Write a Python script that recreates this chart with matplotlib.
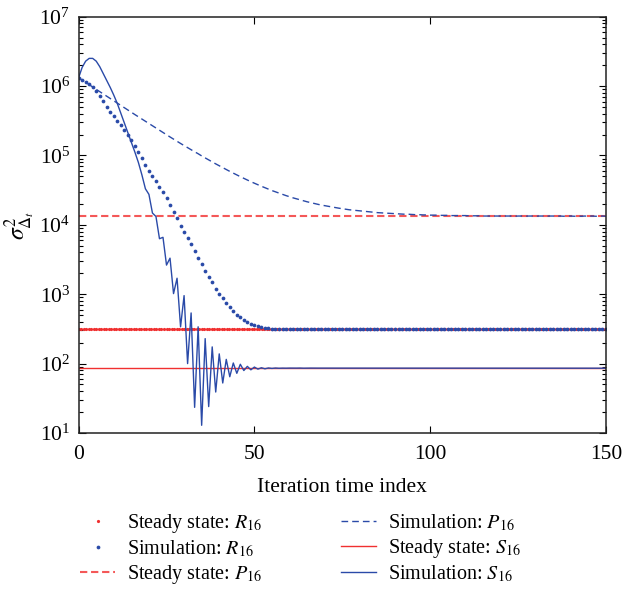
import numpy as np
import matplotlib
matplotlib.use("Agg")
import matplotlib.pyplot as plt
from matplotlib.ticker import LogLocator, NullFormatter, FixedLocator

plt.rcParams['font.family'] = ['Liberation Serif', 'DejaVu Serif']
plt.rcParams['mathtext.fontset'] = 'stix'
plt.rcParams['font.size'] = 14.5

# iteration index of the simulated curves
iters = np.arange(151)

# steady-state levels
ss_R16 = 313.0
ss_P16 = 1.33e4
ss_S16 = 86.0
# the red dotted steady-state line is drawn as closely spaced points
ss_x = np.linspace(0, 150, 211)

sim_P16 = [
    1.32e6, 1.22e6, 1.13e6, 1.05e6, 9.70e5, 8.98e5, 8.32e5, 7.71e5, 7.14e5, 6.61e5,
    6.13e5, 5.68e5, 5.26e5, 4.88e5, 4.52e5, 4.19e5, 3.89e5, 3.61e5, 3.34e5, 3.10e5,
    2.88e5, 2.67e5, 2.48e5, 2.31e5, 2.14e5, 1.99e5, 1.85e5, 1.72e5, 1.60e5, 1.49e5,
    1.39e5, 1.30e5, 1.21e5, 1.13e5, 1.06e5, 9.86e4, 9.22e4, 8.63e4, 8.08e4, 7.57e4,
    7.11e4, 6.67e4, 6.27e4, 5.90e4, 5.56e4, 5.24e4, 4.95e4, 4.68e4, 4.43e4, 4.19e4,
    3.98e4, 3.78e4, 3.60e4, 3.43e4, 3.27e4, 3.12e4, 2.99e4, 2.86e4, 2.75e4, 2.64e4,
    2.54e4, 2.45e4, 2.37e4, 2.29e4, 2.22e4, 2.15e4, 2.09e4, 2.03e4, 1.98e4, 1.93e4,
    1.89e4, 1.85e4, 1.81e4, 1.77e4, 1.74e4, 1.71e4, 1.68e4, 1.65e4, 1.63e4, 1.61e4,
    1.59e4, 1.57e4, 1.55e4, 1.53e4, 1.52e4, 1.50e4, 1.49e4, 1.48e4, 1.47e4, 1.46e4,
    1.45e4, 1.44e4, 1.43e4, 1.42e4, 1.42e4, 1.41e4, 1.40e4, 1.40e4, 1.39e4, 1.39e4,
    1.38e4, 1.38e4, 1.38e4, 1.37e4, 1.37e4, 1.37e4, 1.36e4, 1.36e4, 1.36e4, 1.36e4,
    1.36e4, 1.35e4, 1.35e4, 1.35e4, 1.35e4, 1.34e4, 1.34e4, 1.34e4, 1.34e4, 1.34e4,
    1.34e4, 1.34e4, 1.34e4, 1.34e4, 1.33e4, 1.34e4, 1.34e4, 1.33e4, 1.34e4, 1.34e4,
    1.33e4, 1.34e4, 1.34e4, 1.33e4, 1.34e4, 1.34e4, 1.33e4, 1.34e4, 1.33e4, 1.34e4,
    1.34e4, 1.33e4, 1.34e4, 1.33e4, 1.34e4, 1.33e4, 1.34e4, 1.33e4, 1.33e4, 1.34e4,
    1.33e4,
]

sim_R16 = [
    1.32e6, 1.23e6, 1.15e6, 1.07e6, 9.77e5, 8.51e5, 7.24e5, 6.03e5, 5.01e5, 4.27e5,
    3.72e5, 3.16e5, 2.75e5, 2.34e5, 2.00e5, 1.66e5, 1.38e5, 1.12e5, 9.12e4, 7.41e4,
    6.03e4, 5.01e4, 4.27e4, 3.55e4, 2.95e4, 2.40e4, 1.91e4, 1.55e4, 1.26e4, 9.77e3,
    7.94e3, 6.46e3, 5.25e3, 4.17e3, 3.31e3, 2.69e3, 2.19e3, 1.78e3, 1.48e3, 1.20e3,
    1020, 871, 740, 645, 570, 510, 465, 428, 398, 375,
    358, 345, 336, 329, 324, 320, 318, 316, 315, 314,
    313, 313, 314, 313, 312, 311, 312, 313, 314, 313,
    312, 313, 313, 312, 313, 314, 314, 313, 312, 313,
    313, 312, 312, 313, 314, 313, 313, 312, 313, 313,
    314, 315, 314, 313, 312, 313, 313, 314, 313, 312,
    313, 313, 312, 313, 314, 313, 312, 313, 313, 312,
    313, 314, 313, 312, 313, 313, 312, 313, 314, 313,
    313, 312, 313, 314, 314, 313, 312, 313, 313, 312,
    313, 313, 314, 313, 312, 313, 314, 313, 312, 313,
    313, 312, 313, 313, 314, 313, 312, 313, 313, 314,
    313,
]

sim_S16 = [
    1.32e6, 1.86e6, 2.29e6, 2.51e6, 2.51e6, 2.29e6, 1.91e6, 1.52e6, 1.20e6, 9.55e5,
    7.41e5, 5.62e5, 4.07e5, 2.95e5, 2.14e5, 1.55e5, 1.12e5, 7.94e4, 5.25e4, 3.31e4,
    2.75e4, 1.48e4, 1.32e4, 6.31e3, 6.61e3, 2.63e3, 3.31e3, 1.02e3, 1.70e3, 339,
    955, 100, 537, 23.4, 339, 12.9, 229, 24.0, 174, 38.9,
    138, 52.5, 115, 64.6, 102, 72.4, 97.7, 79.4, 91.2, 81.3,
    89.1, 83.2, 87.1, 84.1, 86.5, 85.2, 86.3, 85.6, 86.0, 85.8,
    86.1, 85.9, 86.0, 86.2, 85.8, 86.0, 86.1, 85.9, 86.0, 86.0,
    85.8, 86.1, 86.0, 85.9, 86.2, 86.0, 85.9, 86.0, 86.1, 85.8,
    86.0, 86.0, 86.1, 85.9, 86.0, 86.2, 85.9, 86.0, 85.8, 86.0,
    86.1, 86.0, 85.9, 86.0, 86.0, 86.1, 85.9, 86.0, 86.2, 85.9,
    86.0, 85.8, 86.0, 86.1, 86.0, 85.9, 86.0, 86.0, 86.1, 85.9,
    86.0, 86.0, 85.9, 86.1, 86.0, 85.8, 86.0, 86.1, 86.0, 85.9,
    86.0, 86.1, 86.0, 85.9, 86.0, 86.0, 86.2, 85.9, 86.0, 86.0,
    85.9, 86.0, 86.1, 86.0, 85.9, 86.0, 86.0, 86.1, 85.9, 86.0,
    86.0, 85.9, 86.0, 86.1, 86.0, 85.9, 86.0, 86.0, 86.1, 85.8,
    85.6,
]

labels = [r'Steady state: $R_{16}$', r'Simulation: $R_{16}$',
          r'Steady state: $P_{16}$', r'Simulation: $P_{16}$',
          r'Steady state: $S_{16}$', r'Simulation: $S_{16}$']

BLUE = '#2a4aa8'
RED = '#f03030'
RED_DASH = '#f45858'

fig = plt.figure(figsize=(6.24, 5.98), dpi=100)
ax = fig.add_axes([0.126, 0.276, 0.845, 0.696])

ax.plot(ss_x, np.full(len(ss_x), ss_R16), ls='none', marker='o', ms=2.3, mew=0,
        color=RED, label=labels[0])
ax.plot(iters, sim_R16, ls='none', marker='o', ms=2.7, mew=0,
        color=BLUE, label=labels[1])
ax.plot([0, 150], [ss_P16, ss_P16], color=RED_DASH, lw=1.5, dashes=(3.5, 1.8),
        label=labels[2])
ax.plot(iters, sim_P16, color=BLUE, lw=1.0, dashes=(4.8, 2.9), label=labels[3])
ax.plot([0, 150], [ss_S16, ss_S16], color=RED, lw=1.0, label=labels[4])
ax.plot(iters, sim_S16, color=BLUE, lw=1.0, label=labels[5])

ax.set_yscale('log')
ax.set_xlim(0, 150)
ax.set_ylim(1e1, 1e7)
ax.xaxis.set_major_locator(FixedLocator([0, 50, 100, 150]))
ax.yaxis.set_major_locator(LogLocator(base=10, numticks=20))
ax.yaxis.set_minor_locator(LogLocator(base=10, subs=np.arange(2, 10), numticks=100))
ax.yaxis.set_minor_formatter(NullFormatter())
ax.tick_params(which='both', direction='in', top=True, right=True, width=0.8)
ax.tick_params(which='major', length=5, labelsize=15.5, pad=6)
ax.tick_params(axis='x', which='major', pad=9)
ax.tick_params(which='minor', length=3)
for s in ax.spines.values():
    s.set_linewidth(1.1)
    s.set_color('#222222')

ax.set_xlabel('Iteration time index', fontsize=15.5, labelpad=10)
ax.set_ylabel(r'$\sigma^2_{\Delta_t}$', fontsize=17, labelpad=2)

fig.legend(loc='upper left', bbox_to_anchor=(80 / 624, 1 - 512 / 598), ncol=2,
           frameon=False, handlelength=1.75, handletextpad=0.6, columnspacing=3.9,
           labelspacing=0.18, borderpad=0, borderaxespad=0, numpoints=1,
           fontsize=14.5)

fig.savefig('out.png', dpi=100)
